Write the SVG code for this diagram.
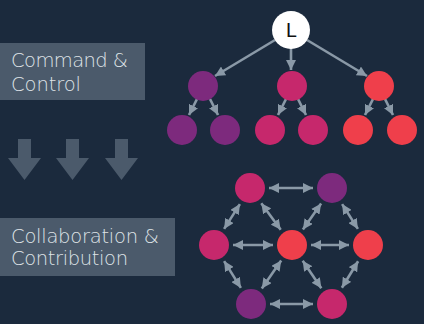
<svg xmlns="http://www.w3.org/2000/svg" width="424" height="324" viewBox="0 0 424 324">
<defs>
<style>
.lbl{fill:#4b5a6b}
.txt{font-family:"DejaVu Sans","Noto Sans",sans-serif;font-weight:300;font-size:19.5px;fill:#dfe3e7}
.dn{fill:#4b5a6b}
.ln{stroke:#8a99a7;stroke-width:2.6;fill:none}
.pu{fill:#7d2a7d}
.mg{fill:#c6286c}
.rd{fill:#ef3f4b}
</style>
<marker id="ah" viewBox="0 0 10 10" refX="10" refY="5" markerWidth="10" markerHeight="10" markerUnits="userSpaceOnUse" orient="auto-start-reverse">
<path d="M0,0 L10,5 L0,10 Z" fill="#8a99a7"/>
</marker>
</defs>
<rect width="424" height="324" fill="#1b2a3d"/>
<g id="label-command">
<rect class="lbl" x="0" y="43" width="145" height="57"/>
<text class="txt" x="11" y="67" textLength="117">Command &amp;</text>
<text class="txt" x="11" y="91" textLength="70">Control</text>
</g>
<g id="down-arrows">
<polygon class="dn" points="18,139 31,139 31,158 41,158 24.5,180 8,158 18,158"/>
<polygon class="dn" points="66,139 79,139 79,158 89,158 72.5,180 56,158 66,158"/>
<polygon class="dn" points="115,139 128,139 128,158 138,158 121.5,180 105,158 115,158"/>
</g>
<g id="label-collab">
<rect class="lbl" x="0" y="218" width="175" height="58"/>
<text class="txt" x="11" y="243" textLength="148">Collaboration &amp;</text>
<text class="txt" x="11" y="265" textLength="117">Contribution</text>
</g>
<g id="connectors">
<line class="ln" x1="275" y1="40" x2="215" y2="76" marker-end="url(#ah)"/>
<line class="ln" x1="291" y1="48" x2="291" y2="70" marker-end="url(#ah)"/>
<line class="ln" x1="307" y1="40" x2="367" y2="76" marker-end="url(#ah)"/>
<line class="ln" x1="197" y1="99" x2="189" y2="115" marker-end="url(#ah)"/>
<line class="ln" x1="210" y1="99" x2="218" y2="115" marker-end="url(#ah)"/>
<line class="ln" x1="286" y1="99" x2="278" y2="115" marker-end="url(#ah)"/>
<line class="ln" x1="298" y1="99" x2="306" y2="115" marker-end="url(#ah)"/>
<line class="ln" x1="373" y1="99" x2="365" y2="115" marker-end="url(#ah)"/>
<line class="ln" x1="385" y1="99" x2="393" y2="115" marker-end="url(#ah)"/>
<line class="ln" x1="269" y1="188" x2="313" y2="188" marker-start="url(#ah)" marker-end="url(#ah)"/>
<line class="ln" x1="233" y1="245" x2="273" y2="245" marker-start="url(#ah)" marker-end="url(#ah)"/>
<line class="ln" x1="311" y1="245" x2="349" y2="245" marker-start="url(#ah)" marker-end="url(#ah)"/>
<line class="ln" x1="270" y1="304" x2="313" y2="304" marker-start="url(#ah)" marker-end="url(#ah)"/>
<line class="ln" x1="239.9" y1="204.1" x2="224.1" y2="228.9" marker-start="url(#ah)" marker-end="url(#ah)"/>
<line class="ln" x1="261.3" y1="203.3" x2="280.7" y2="229.7" marker-start="url(#ah)" marker-end="url(#ah)"/>
<line class="ln" x1="321.1" y1="203.6" x2="302.9" y2="229.4" marker-start="url(#ah)" marker-end="url(#ah)"/>
<line class="ln" x1="342.1" y1="204.1" x2="357.9" y2="228.9" marker-start="url(#ah)" marker-end="url(#ah)"/>
<line class="ln" x1="224.1" y1="261.1" x2="240.9" y2="287.9" marker-start="url(#ah)" marker-end="url(#ah)"/>
<line class="ln" x1="281.2" y1="260.6" x2="261.8" y2="288.4" marker-start="url(#ah)" marker-end="url(#ah)"/>
<line class="ln" x1="302.7" y1="260.7" x2="321.3" y2="288.3" marker-start="url(#ah)" marker-end="url(#ah)"/>
<line class="ln" x1="358.1" y1="261.2" x2="341.9" y2="287.8" marker-start="url(#ah)" marker-end="url(#ah)"/>
</g>
<g id="leader">
<circle cx="291" cy="30" r="19" fill="#ffffff"/>
<text x="291" y="37" text-anchor="middle" font-family="'DejaVu Sans','Noto Sans',sans-serif" font-size="19" fill="#111111">L</text>
</g>
<g id="t-l"><circle class="pu" cx="203" cy="86" r="15"/></g>
<g id="t-m"><circle class="mg" cx="292" cy="86" r="15"/></g>
<g id="t-r"><circle class="rd" cx="379" cy="86" r="15"/></g>
<g id="t-l1"><circle class="pu" cx="182" cy="130" r="15"/></g>
<g id="t-l2"><circle class="pu" cx="225" cy="130" r="15"/></g>
<g id="t-m1"><circle class="mg" cx="270" cy="130" r="15"/></g>
<g id="t-m2"><circle class="mg" cx="313" cy="130" r="15"/></g>
<g id="t-r1"><circle class="rd" cx="358" cy="130" r="15"/></g>
<g id="t-r2"><circle class="rd" cx="402" cy="130" r="15"/></g>
<g id="n-tl"><circle class="mg" cx="250" cy="188" r="15"/></g>
<g id="n-tr"><circle class="pu" cx="332" cy="188" r="15"/></g>
<g id="n-ml"><circle class="mg" cx="214" cy="245" r="15"/></g>
<g id="n-c"><circle class="rd" cx="292" cy="245" r="15"/></g>
<g id="n-mr"><circle class="rd" cx="368" cy="245" r="15"/></g>
<g id="n-bl"><circle class="pu" cx="251" cy="304" r="15"/></g>
<g id="n-br"><circle class="mg" cx="332" cy="304" r="15"/></g>
</svg>
